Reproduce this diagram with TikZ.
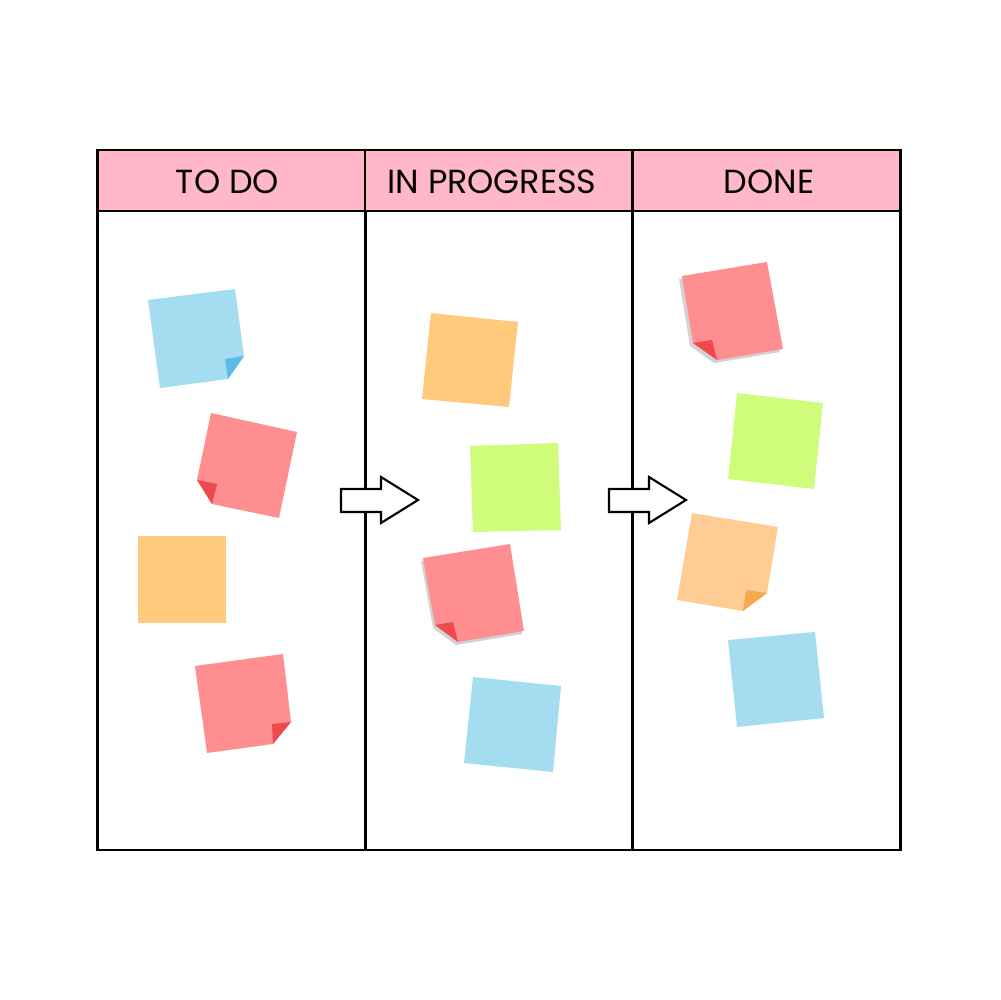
\documentclass[tikz,border=0pt]{standalone}
\usepackage{fontspec}
\setmainfont{Poppins}
\definecolor{hdrpink}{HTML}{FFB7C9}
\definecolor{nblue}{HTML}{A4DCF0}
\definecolor{nbluef}{HTML}{5BBBE4}
\definecolor{nred}{HTML}{FF8E90}
\definecolor{nredf}{HTML}{EE4A4E}
\definecolor{norange}{HTML}{FFCA7C}
\definecolor{nlorange}{HTML}{FFCC93}
\definecolor{nlorangef}{HTML}{F5A84E}
\definecolor{ngreen}{HTML}{CFFD7B}
\definecolor{nshadow}{HTML}{D2D2D2}
\begin{document}
\begin{tikzpicture}[x=0.1mm,y=-0.1mm,line join=miter,
  hdr/.style={draw=black,line width=0.6pt,fill=hdrpink,minimum width=26.8mm,minimum height=6.1mm,inner sep=0pt},
  hdrtext/.style={inner sep=0pt,anchor=base,font=\fontsize{9.5pt}{11pt}\selectfont},
  colbody/.style={draw=black,line width=0.6pt,minimum width=26.8mm,minimum height=63.9mm,inner sep=0pt},
  blockarrow/.style={draw=black,fill=white,line width=0.6pt},
  shadowsty/.style={fill=nshadow}]
\useasboundingbox[fill=white] (0,0) rectangle (1000,1000);

% columns
\node[colbody] (b1) at (231.5,530.5) {};
\node[colbody] (b2) at (499,530.5) {};
\node[colbody] (b3) at (766.5,530.5) {};
\node[hdr] (h1) at (231.5,180.5) {};
\node[hdr] (h2) at (499,180.5) {};
\node[hdr] (h3) at (766.5,180.5) {};
\node[hdrtext] (t1) at (227.5,193) {TO DO};
\node[hdrtext] (t2) at (492,193) {IN PROGRESS};
\node[hdrtext] (t3) at (769,193) {DONE};

% TO DO notes
\fill[nblue] (148,300) -- (235,289) -- (244,356) -- (228,379) -- (160,388) -- cycle;
\fill[nbluef] (244,356) -- (228,379) -- (225,359) -- cycle;

\fill[nred] (211,413) -- (297,432) -- (279,518) -- (212,504) -- (197,480) -- cycle;
\fill[nredf] (197,480) -- (217,484) -- (212,504) -- cycle;

\fill[norange] (138,536) rectangle (226,623);

\fill[nred] (195,666) -- (283,654) -- (291,722) -- (273,744) -- (207,753) -- cycle;
\fill[nredf] (291,722) -- (273,744) -- (272,724) -- cycle;

% IN PROGRESS notes
\fill[norange] (431,313) -- (518,322) -- (509,407) -- (422,399) -- cycle;
\fill[ngreen] (470,446) -- (558,443) -- (561,530) -- (473,532) -- cycle;

\fill[shadowsty,shift={(-2,3)}] (423,558) -- (510,544) -- (524,631) -- (458,642) -- (435,625) -- cycle;
\fill[nred] (423,558) -- (510,544) -- (524,631) -- (458,642) -- (435,625) -- cycle;
\fill[nredf] (435,625) -- (453,622) -- (458,642) -- cycle;

\fill[nblue] (473,677) -- (561,686) -- (553,772) -- (464,763) -- cycle;

% DONE notes
\fill[shadowsty,shift={(-3,3)}] (682,276) -- (767,262) -- (783,349) -- (717,360) -- (693,343) -- cycle;
\fill[nred] (682,276) -- (767,262) -- (783,349) -- (717,360) -- (693,343) -- cycle;
\fill[nredf] (693,343) -- (712,340) -- (717,360) -- cycle;

\fill[ngreen] (737,393) -- (823,403) -- (814,489) -- (728,479) -- cycle;

\fill[nlorange] (692,513) -- (778,527) -- (767,593) -- (743,611) -- (677,600) -- cycle;
\fill[nlorangef] (767,593) -- (743,611) -- (746,590) -- cycle;

\fill[nblue] (728,640) -- (815,632) -- (824,718) -- (737,727) -- cycle;

% block arrows
\draw[blockarrow] (341,489) -- (381,489) -- (381,477) -- (418,500) -- (381,523) -- (381,512) -- (341,512) -- cycle;
\draw[blockarrow] (609,489) -- (649,489) -- (649,477) -- (686,500) -- (649,523) -- (649,512) -- (609,512) -- cycle;
\end{tikzpicture}
\end{document}
